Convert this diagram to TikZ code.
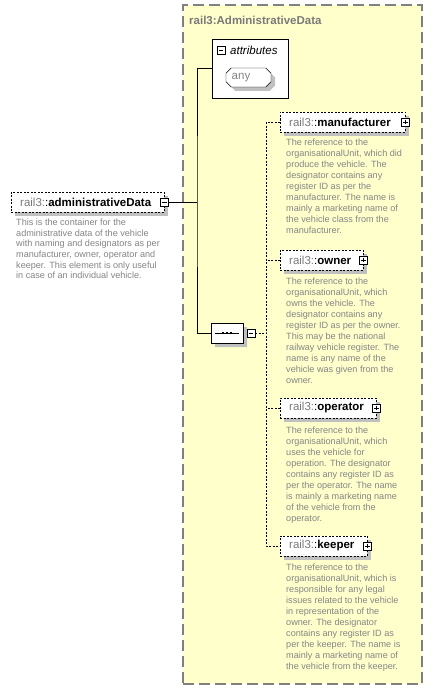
\documentclass[tikz,border=0pt]{standalone}
\usepackage{fontspec}
\setmainfont{Liberation Sans}
\usetikzlibrary{shapes.misc,shadows}
\definecolor{boxyellow}{HTML}{FFFFCC}
\definecolor{framegray}{HTML}{808080}
\definecolor{descgray}{HTML}{858585}
\definecolor{prefixgray}{HTML}{7A7A7A}
\definecolor{shadegray}{HTML}{C0C0C0}
\newcommand{\qname}[1]{\textcolor{prefixgray}{rail3:}:\textbf{#1}}

\begin{document}
\begin{tikzpicture}[x=1pt,y=-1pt,
  shade/.style={general shadow={fill=shadegray, draw=none, shadow xshift=4pt, shadow yshift=-4pt}},
  elem/.style={draw, dash pattern=on 2pt off 1.5pt, fill=white, minimum height=20pt,
    inner xsep=9pt, inner ysep=0pt, anchor=west, align=left, shade,
    font=\fontsize{11.5}{13}\selectfont},
  toggle/.style={draw, fill=white, minimum size=8.5pt, inner sep=0pt},
  minusbox/.style={toggle, path picture={
    \draw ([xshift=1.8pt]path picture bounding box.west) -- ([xshift=-1.8pt]path picture bounding box.east);}},
  plusbox/.style={toggle, path picture={
    \draw ([xshift=1.8pt]path picture bounding box.west) -- ([xshift=-1.8pt]path picture bounding box.east)
          ([yshift=-1.8pt]path picture bounding box.north) -- ([yshift=1.8pt]path picture bounding box.south);}},
  desc/.style={anchor=north west, inner sep=0pt, align=left, text=descgray,
    font=\fontsize{9.1}{11}\selectfont},
  link/.style={draw, line width=0.8pt},
  optlink/.style={draw, line width=0.8pt, dash pattern=on 2pt off 1.5pt},
]
\useasboundingbox (0,0) rectangle (433,690);
\fill[white] (0,0) rectangle (433,690);

% complex type frame
\node[draw=framegray, line width=1.3pt, dash pattern=on 11pt off 5pt, fill=boxyellow,
      minimum width=239pt, minimum height=679pt, inner sep=0pt] (frame) at (302.5,344.5) {};
\node[anchor=west, inner sep=0pt, text=prefixgray, font=\fontsize{11.5}{13}\selectfont\bfseries]
  (frametitle) at (189,20) {rail3:AdministrativeData};

% attributes group
\node[draw, fill=white, minimum width=76pt, minimum height=59pt, inner sep=0pt] (attrs) at (250,68.5) {};
\node[minusbox] (attrtoggle) at (221,50) {};
\node[anchor=west, inner sep=0pt, font=\fontsize{11.5}{13}\selectfont\itshape] (attrlabel) at (230,50) {attributes};
\node[draw, fill=white, chamfered rectangle, chamfered rectangle xsep=3.5pt, chamfered rectangle ysep=3.5pt,
      minimum width=45pt, minimum height=19pt, inner sep=0pt, shade,
      text=descgray, font=\fontsize{11.5}{13}\selectfont] (any) at (248.5,77.5) {\hspace*{-15pt}any};

% root element
\node[elem, text width=135pt] (adm) at (11,202) {\qname{administrativeData}};
\node[minusbox] (admtoggle) at (adm.east) {};
\node[desc, font=\fontsize{9.1}{10.6}\selectfont] (admdesc) at (16,219) {This is the container for the\\
administrative data of the vehicle\\
with naming and designators as per\\
manufacturer, owner, operator and\\
keeper. This element is only useful\\
in case of an individual vehicle.};

% sequence compositor
\node[draw, fill=white, chamfered rectangle, chamfered rectangle xsep=5pt, chamfered rectangle ysep=5pt,
      minimum width=32pt, minimum height=20pt, inner sep=0pt, shade] (seq) at (227,333) {};
\draw[line width=1pt] ([xshift=4pt]seq.west) -- ([xshift=-4pt]seq.east);
\foreach \dx in {-4,0,4}
  \fill ([xshift=\dx pt-1.2pt, yshift=-1.3pt]seq.center) rectangle ([xshift=\dx pt+1.2pt, yshift=1.3pt]seq.center);
\node[minusbox] (seqtoggle) at (251,333) {};

% child elements
\node[elem, text width=107pt] (manu) at (280,122) {\qname{manufacturer}};
\node[plusbox] (manutoggle) at (manu.east) {};
\node[desc] (manudesc) at (286,139) {The reference to the\\
organisationalUnit, which did\\
produce the vehicle. The\\
designator contains any\\
register ID as per the\\
manufacturer. The name is\\
mainly a marketing name of\\
the vehicle class from the\\
manufacturer.};

\node[elem, text width=65pt] (owner) at (280,260) {\qname{owner}};
\node[plusbox] (ownertoggle) at (owner.east) {};
\node[desc] (ownerdesc) at (286,278) {The reference to the\\
organisationalUnit, which\\
owns the vehicle. The\\
designator contains any\\
register ID as per the owner.\\
This may be the national\\
railway vehicle register. The\\
name is any name of the\\
vehicle was given from the\\
owner.};

\node[elem, text width=78pt] (oper) at (280,408) {\qname{operator}};
\node[plusbox] (opertoggle) at (oper.east) {};
\node[desc] (operdesc) at (286,427) {The reference to the\\
organisationalUnit, which\\
uses the vehicle for\\
operation. The designator\\
contains any register ID as\\
per the operator. The name\\
is mainly a marketing name\\
of the vehicle from the\\
operator.};

\node[elem, text width=69pt] (keeper) at (280,546) {\qname{keeper}};
\node[plusbox] (keepertoggle) at (keeper.east) {};
\node[desc] (keeperdesc) at (286,564) {The reference to the\\
organisationalUnit, which is\\
responsible for any legal\\
issues related to the vehicle\\
in representation of the\\
owner. The designator\\
contains any register ID as\\
per the keeper. The name is\\
mainly a marketing name of\\
the vehicle from the keeper.};

% connectors
\coordinate (trunk) at (197,202);
\coordinate (branch) at (266,333);
\path[link] (admtoggle.east) -- (trunk);
\path[link] (attrs.west) -| (trunk) |- (seq.west);
\path[optlink] (seqtoggle.east) -- (branch);
\path[optlink] (manu.west) -| (branch) |- (keeper.west);
\path[optlink] (owner.west) -- (owner.west -| branch);
\path[optlink] (oper.west) -- (oper.west -| branch);
\end{tikzpicture}
\end{document}
